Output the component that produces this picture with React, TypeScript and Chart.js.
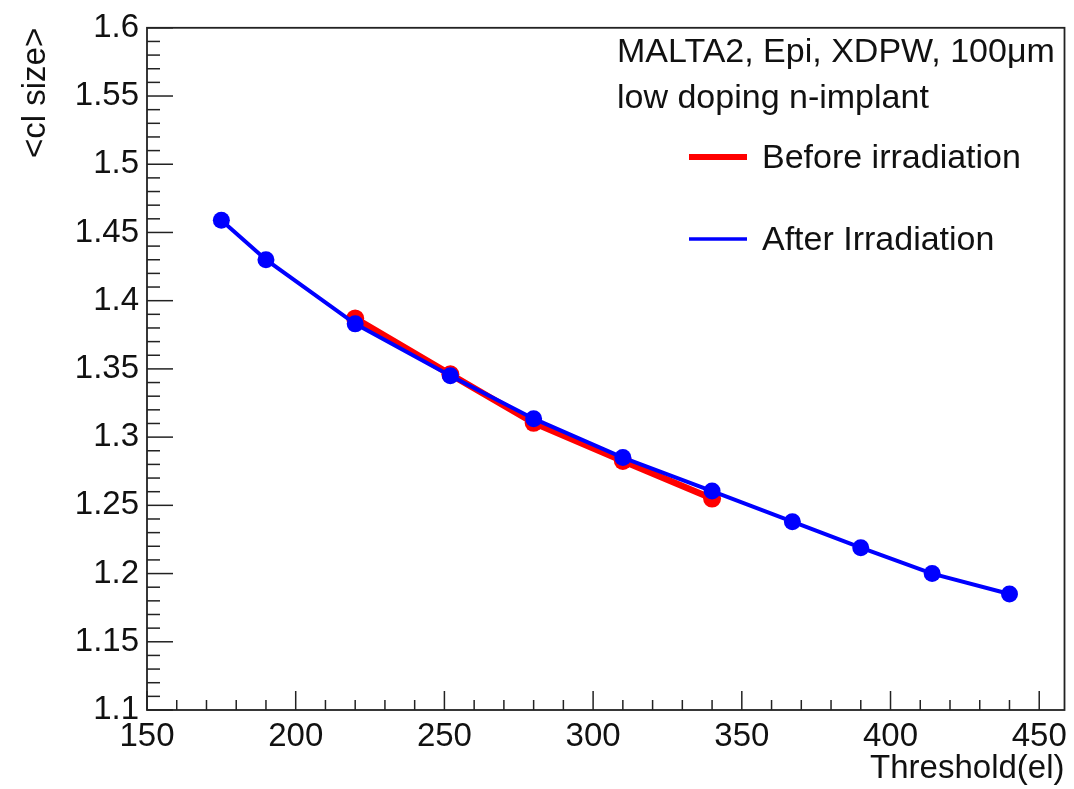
import { useEffect, useRef } from "react";
import { Chart, registerables } from "chart.js";

Chart.register(...registerables);

// ---- data ----
const thresholdBefore = [220, 252, 280, 310, 340];
const clSizeBefore = [1.387, 1.346, 1.3105, 1.2825, 1.255];

const thresholdAfter = [175, 190, 220, 252, 280, 310, 340, 367, 390, 414, 440];
const clSizeAfter = [1.459, 1.43, 1.383, 1.345, 1.3135, 1.285, 1.2605, 1.238, 1.219, 1.2, 1.185];

const xTickValues = [150, 200, 250, 300, 350, 400, 450];
const yTickValues = [1.1, 1.15, 1.2, 1.25, 1.3, 1.35, 1.4, 1.45, 1.5, 1.55, 1.6];
const xMin = 150;
const xMax = 458.5;

const legendHeader = ["MALTA2, Epi, XDPW, 100\u03bcm", "low doping n-implant"];
const seriesNames = ["Before irradiation", "After Irradiation"];
const xTitle = "Threshold(el)";
const yTitle = "<cl size>";

const FONT = '"Liberation Sans", Arial, Helvetica, sans-serif';
const INK = "#111111";
const RED = "#ff0000";
const BLUE = "#0000ff";

const rootStylePlugin = {
  id: "rootStyle",
  afterDraw(chart: any) {
    const { ctx, chartArea: a, scales } = chart;
    const xs = scales.x;
    const ys = scales.y;
    const line = (x1: number, y1: number, x2: number, y2: number) => {
      ctx.beginPath();
      ctx.moveTo(x1, y1);
      ctx.lineTo(x2, y2);
      ctx.stroke();
    };
    ctx.save();
    ctx.strokeStyle = "#222222";
    ctx.lineWidth = 1.5;
    // y-axis ticks (inside), 5 subdivisions
    for (let i = 0; i < yTickValues.length; i++) {
      const v = yTickValues[i];
      const p = ys.getPixelForValue(v);
      line(a.left, p, a.left + 26, p);
      if (i < yTickValues.length - 1) {
        const step = (yTickValues[i + 1] - v) / 5;
        for (let k = 1; k < 5; k++) {
          const q = ys.getPixelForValue(v + k * step);
          line(a.left, q, a.left + 13, q);
        }
      }
    }
    // x-axis ticks (inside), 5 subdivisions
    for (let i = 0; i < xTickValues.length; i++) {
      const v = xTickValues[i];
      const p = xs.getPixelForValue(v);
      line(p, a.bottom, p, a.bottom - 19);
      if (i < xTickValues.length - 1) {
        const step = (xTickValues[i + 1] - v) / 5;
        for (let k = 1; k < 5; k++) {
          const q = xs.getPixelForValue(v + k * step);
          line(q, a.bottom, q, a.bottom - 10);
        }
      }
    }
    // frame
    ctx.lineWidth = 1.8;
    ctx.strokeRect(a.left, a.top, a.right - a.left, a.bottom - a.top);

    // legend / text box
    ctx.fillStyle = INK;
    ctx.font = `34px ${FONT}`;
    ctx.textBaseline = "middle";
    ctx.textAlign = "left";
    ctx.fillText(legendHeader[0], 617, 53);
    ctx.fillText(legendHeader[1], 617, 99);

    ctx.lineCap = "butt";
    ctx.strokeStyle = RED;
    ctx.lineWidth = 6;
    line(689, 157, 747, 157);
    ctx.strokeStyle = BLUE;
    ctx.lineWidth = 3.5;
    line(689, 239, 747, 239);

    ctx.fillText(seriesNames[0], 762, 159);
    ctx.fillText(seriesNames[1], 762, 241);
    ctx.restore();
  },
};

export default function App() {
  const ref = useRef<HTMLCanvasElement | null>(null);

  useEffect(() => {
    if (!ref.current) return;
    const chart = new Chart(ref.current, {
      type: "line",
      data: {
        datasets: [
          {
            label: seriesNames[1],
            data: thresholdAfter.map((x, i) => ({ x, y: clSizeAfter[i] })),
            borderColor: BLUE,
            backgroundColor: BLUE,
            borderWidth: 4,
            pointRadius: 8.5,
            pointBorderWidth: 0,
            pointBackgroundColor: BLUE,
            tension: 0,
            order: 0,
          },
          {
            label: seriesNames[0],
            data: thresholdBefore.map((x, i) => ({ x, y: clSizeBefore[i] })),
            borderColor: RED,
            backgroundColor: RED,
            borderWidth: 6.5,
            pointRadius: 9,
            pointBorderWidth: 0,
            pointBackgroundColor: RED,
            tension: 0,
            order: 1,
          },
        ],
      },
      options: {
        animation: false,
        responsive: false,
        devicePixelRatio: 1,
        layout: { padding: { left: 0, right: 7, top: 22, bottom: 0 } },
        plugins: {
          legend: { display: false },
          tooltip: { enabled: false },
        },
        scales: {
          x: {
            type: "linear",
            min: xMin,
            max: xMax,
            grid: { display: false, drawTicks: false },
            border: { display: false },
            afterBuildTicks: (s: any) => {
              s.ticks = xTickValues.map((v) => ({ value: v }));
            },
            afterFit: (s: any) => {
              s.height = 79;
            },
            ticks: {
              color: INK,
              font: { family: FONT, size: 33 },
              padding: 7,
              maxRotation: 0,
              autoSkip: false,
              callback: (v: any) => String(v),
            },
            title: {
              display: true,
              text: xTitle,
              align: "end",
              color: INK,
              font: { family: FONT, size: 33 },
              padding: { top: 0, bottom: 0 },
            },
          },
          y: {
            type: "linear",
            min: yTickValues[0],
            max: yTickValues[yTickValues.length - 1],
            grid: { display: false, drawTicks: false },
            border: { display: false },
            afterBuildTicks: (s: any) => {
              s.ticks = yTickValues.map((v) => ({ value: v }));
            },
            afterFit: (s: any) => {
              s.width = 147;
            },
            ticks: {
              color: INK,
              font: { family: FONT, size: 33 },
              padding: 8,
              autoSkip: false,
              callback: (v: any) => String(Math.round(Number(v) * 100) / 100),
            },
            title: {
              display: true,
              text: yTitle,
              align: "end",
              color: INK,
              font: { family: FONT, size: 33 },
              padding: { top: 16, bottom: 0 },
            },
          },
        },
      },
      plugins: [rootStylePlugin],
    } as any);
    return () => chart.destroy();
  }, []);

  return (
    <div style={{ position: "absolute", left: 0, top: 0, width: 1074, height: 789, background: "#fff" }}>
      <canvas ref={ref} width={1074} height={789} />
    </div>
  );
}
